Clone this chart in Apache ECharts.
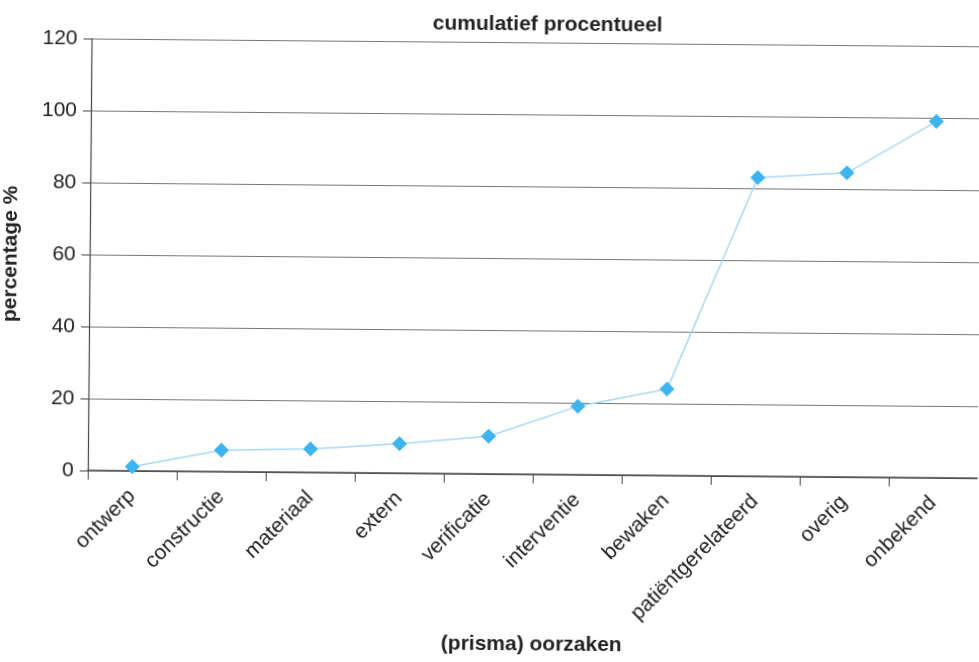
<!DOCTYPE html>
<html>
<head>
<meta charset="utf-8">
<script src="https://cdn.jsdelivr.net/npm/echarts@6/dist/echarts.min.js"></script>
<style>
  html, body { margin: 0; padding: 0; background: #fff; overflow: hidden; }
  #chart { width: 979px; height: 662px; transform: rotate(0.5deg); }
</style>
</head>
<body>
<div id="chart"></div>
<script>
var categories = ['ontwerp', 'constructie', 'materiaal', 'extern', 'verificatie', 'interventie', 'bewaken', 'patiëntgerelateerd', 'overig', 'onbekend'];
var cumulative = [1.2, 6, 6.5, 8.2, 10.5, 19, 24, 83, 84.5, 99];
var yTicks = [0, 20, 40, 60, 80, 100, 120];

var font = '"Liberation Sans", Arial, sans-serif';
var myChart = echarts.init(document.getElementById('chart'));

var option = {
    backgroundColor: '#fff',
    title: {
        text: 'cumulatief procentueel',
        left: 540,
        textAlign: 'center',
        top: 9,
        textStyle: { fontFamily: font, fontSize: 21, fontWeight: 'bold', color: '#222' }
    },
    grid: { left: 89, right: 0, top: 42, bottom: 188, outerBoundsMode: 'none', containLabel: false },
    xAxis: {
        type: 'category',
        data: categories,
        boundaryGap: true,
        name: '(prisma) oorzaken',
        nameLocation: 'middle',
        nameGap: 160,
        nameTextStyle: { fontFamily: font, fontSize: 21, fontWeight: 'bold', color: '#222' },
        axisLine: { lineStyle: { color: '#444', width: 1.5 } },
        axisTick: { show: true, length: 9, alignWithLabel: false, lineStyle: { color: '#444' } },
        axisLabel: { rotate: 45, fontFamily: font, fontSize: 21, color: '#222', margin: 22, interval: 0 }
    },
    yAxis: {
        type: 'value',
        min: yTicks[0],
        max: yTicks[yTicks.length - 1],
        interval: 20,
        name: 'percentage %',
        nameLocation: 'middle',
        nameGap: 68,
        nameTextStyle: { fontFamily: font, fontSize: 21, fontWeight: 'bold', color: '#222' },
        axisLine: { show: true, lineStyle: { color: '#444', width: 1.2 } },
        axisTick: { show: true, length: 8, lineStyle: { color: '#444' } },
        axisLabel: { fontFamily: font, fontSize: 21, color: '#222', margin: 14 },
        splitLine: { show: true, lineStyle: { color: '#777', width: 1 } }
    },
    series: [{
        type: 'line',
        data: cumulative,
        symbol: 'diamond',
        symbolSize: 15,
        itemStyle: { color: '#3db3ef' },
        lineStyle: { color: '#a9d6f2', width: 1.5 },
        animation: false
    }]
};

myChart.setOption(option);
</script>
</body>
</html>
